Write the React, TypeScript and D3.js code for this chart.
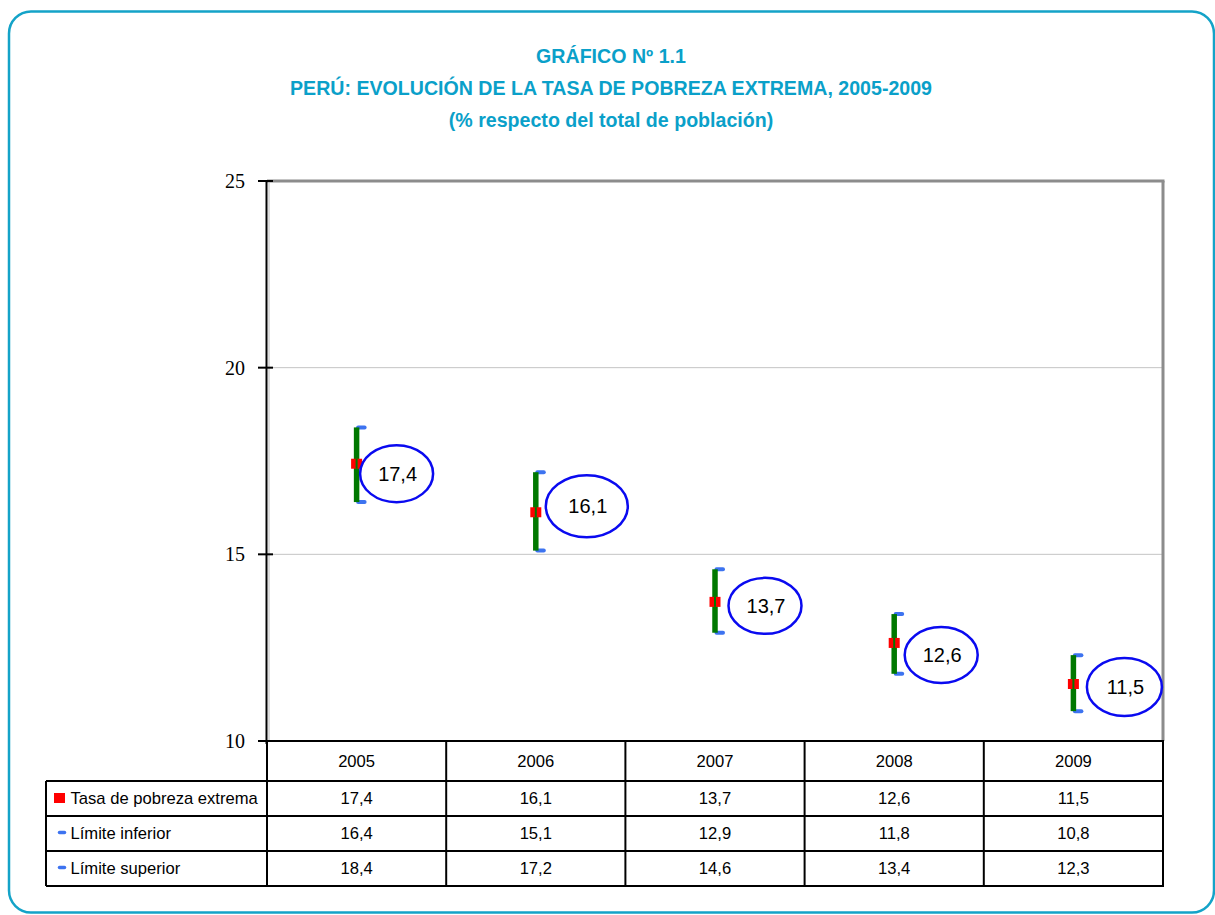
import React from "react";
import * as d3 from "d3";

const years = ["2005", "2006", "2007", "2008", "2009"];
const tasa = [17.4, 16.1, 13.7, 12.6, 11.5];
const limiteInferior = [16.4, 15.1, 12.9, 11.8, 10.8];
const limiteSuperior = [18.4, 17.2, 14.6, 13.4, 12.3];
const yTicks = [10, 15, 20, 25];
const rowLabels = ["Tasa de pobreza extrema", "Límite inferior", "Límite superior"];
const titleLines = [
  "GRÁFICO Nº 1.1",
  "PERÚ: EVOLUCIÓN DE LA TASA DE POBREZA EXTREMA, 2005-2009",
  "(% respecto del total de población)",
];
// callout placement nudges (layout only)
const calloutOffsets = [
  [40, 9],
  [51, -7],
  [50, 3],
  [47, 11],
  [51, 2],
];
const calloutRadii = [
  [36.5, 28.5],
  [41, 31],
  [36.5, 28],
  [36.5, 28],
  [37.5, 29],
];

const W = 1215;
const H = 915;
const plotL = 267;
const plotR = 1163;
const plotT = 181;
const plotB = 741;
const tableL = 46;
const rowEdges = [741, 781, 816, 851, 886];

const fmt = (v: number) => d3.format(".1f")(v).replace(".", ",");

export default function App() {
  const x = d3.scaleBand<string>().domain(years).range([plotL, plotR]).padding(0);
  const y = d3.scaleLinear().domain([10, 25]).range([plotB, plotT]);
  const bw = x.bandwidth();
  const cx = (yr: string) => (x(yr) as number) + bw / 2;
  const sans = "'Liberation Sans', Arial, sans-serif";
  const titleColor = "#0aa0c9";
  const capColor = "#3d73f0";
  const rowValues = [tasa, limiteInferior, limiteSuperior];

  return (
    <svg
      width={W}
      height={H}
      style={{ position: "absolute", left: 0, top: 0, background: "#fff" }}
    >
      <rect x={0} y={0} width={W} height={H} fill="#fff" />
      {/* outer frame */}
      <rect
        x={9}
        y={11.5}
        width={1205}
        height={901}
        rx={22}
        ry={22}
        fill="none"
        stroke="#14a3c8"
        strokeWidth={2.5}
      />
      {/* titles */}
      {titleLines.map((t, i) => (
        <text
          key={i}
          x={611}
          y={63 + i * 32}
          textAnchor="middle"
          fontFamily={sans}
          fontWeight="bold"
          fontSize={19.6}
          fill={titleColor}
        >
          {t}
        </text>
      ))}

      {/* gridlines */}
      {yTicks
        .filter((t) => t !== 10 && t !== 25)
        .map((t) => (
          <line
            key={t}
            x1={plotL}
            x2={plotR}
            y1={y(t)}
            y2={y(t)}
            stroke="#c4c4c4"
            strokeWidth={1}
          />
        ))}
      {/* plot frame top and right (gray) */}
      <line x1={plotL} x2={plotR + 1.5} y1={plotT} y2={plotT} stroke="#8c8c8c" strokeWidth={3} />
      <line x1={plotR} x2={plotR} y1={plotT} y2={plotB} stroke="#8c8c8c" strokeWidth={3} />
      <line x1={plotL + 2} x2={plotL + 2} y1={plotT} y2={plotB} stroke="#bbbbbb" strokeWidth={1} />
      {/* y axis */}
      <line x1={plotL - 0.5} x2={plotL - 0.5} y1={plotT} y2={plotB + 3} stroke="#000" strokeWidth={2} />
      {yTicks.map((t) => (
        <g key={t}>
          <line x1={258} x2={273} y1={y(t)} y2={y(t)} stroke="#000" strokeWidth={2} />
          <text
            x={245}
            y={y(t)}
            dy="0.35em"
            textAnchor="end"
            fontFamily="'Liberation Serif', 'Times New Roman', serif"
            fontSize={20}
            fill="#000"
          >
            {t}
          </text>
        </g>
      ))}

      {/* error bars */}
      {years.map((yr, i) => {
        const c = cx(yr);
        const yu = y(limiteSuperior[i]);
        const yl = y(limiteInferior[i]);
        const yv = y(tasa[i]);
        return (
          <g key={yr}>
            <line x1={c + 1.5} x2={c + 8} y1={yu} y2={yu} stroke={capColor} strokeWidth={4} strokeLinecap="round" />
            <line x1={c + 1.5} x2={c + 8} y1={yl} y2={yl} stroke={capColor} strokeWidth={4} strokeLinecap="round" />
            <line x1={c} x2={c} y1={yu} y2={yl} stroke="#007800" strokeWidth={5.5} />
            <rect x={c - 5.5} y={yv - 6} width={11} height={10} fill="#ff0000" />
            <line x1={c} x2={c} y1={yv - 6} y2={yv + 4} stroke="#007800" strokeWidth={2} />
          </g>
        );
      })}

      {/* callouts */}
      {years.map((yr, i) => {
        const ex = cx(yr) + calloutOffsets[i][0];
        const ey = y(tasa[i]) + calloutOffsets[i][1];
        return (
          <g key={"c" + yr}>
            <ellipse
              cx={ex}
              cy={ey}
              rx={calloutRadii[i][0]}
              ry={calloutRadii[i][1]}
              fill="#fff"
              stroke="#0a0af0"
              strokeWidth={2.5}
            />
            <text
              x={ex + 1}
              y={ey}
              dy="0.36em"
              textAnchor="middle"
              fontFamily={sans}
              fontSize={20}
              fill="#000"
            >
              {fmt(tasa[i])}
            </text>
          </g>
        );
      })}

      {/* data table */}
      <g stroke="#000" strokeWidth={2} fill="none">
        <line x1={plotL - 1} x2={plotR + 1} y1={rowEdges[0]} y2={rowEdges[0]} />
        {rowEdges.slice(1).map((r) => (
          <line key={r} x1={tableL} x2={plotR + 1} y1={r} y2={r} />
        ))}
        <line x1={tableL} x2={tableL} y1={rowEdges[1]} y2={rowEdges[4]} />
        {years.map((yr) => (
          <line key={yr} x1={x(yr) as number} x2={x(yr) as number} y1={rowEdges[0]} y2={rowEdges[4]} />
        ))}
        <line x1={plotR} x2={plotR} y1={rowEdges[0]} y2={rowEdges[4]} />
      </g>
      {years.map((yr) => (
        <text
          key={"h" + yr}
          x={cx(yr)}
          y={(rowEdges[0] + rowEdges[1]) / 2}
          dy="0.36em"
          textAnchor="middle"
          fontFamily={sans}
          fontSize={16.6}
          fill="#000"
        >
          {yr}
        </text>
      ))}
      {rowValues.map((vals, r) =>
        vals.map((v, i) => (
          <text
            key={r + "-" + i}
            x={cx(years[i])}
            y={(rowEdges[r + 1] + rowEdges[r + 2]) / 2}
            dy="0.36em"
            textAnchor="middle"
            fontFamily={sans}
            fontSize={16.6}
            fill="#000"
          >
            {fmt(v)}
          </text>
        ))
      )}
      {rowLabels.map((lab, r) => {
        const my = (rowEdges[r + 1] + rowEdges[r + 2]) / 2;
        return (
          <g key={lab}>
            {r === 0 ? (
              <rect x={54} y={my - 5.5} width={11} height={10} fill="#ff0000" />
            ) : (
              <line x1={59.5} x2={64.5} y1={my - 1} y2={my - 1} stroke={capColor} strokeWidth={3.5} strokeLinecap="round" />
            )}
            <text x={70.5} y={my} dy="0.33em" fontFamily={sans} fontSize={16.6} fill="#000">
              {lab}
            </text>
          </g>
        );
      })}
    </svg>
  );
}
